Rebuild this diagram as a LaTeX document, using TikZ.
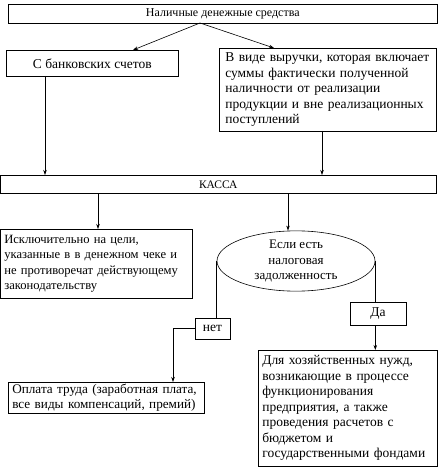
\documentclass[tikz,border=0pt]{standalone}
\usepackage{fontspec}
\setmainfont{Liberation Serif}
\usetikzlibrary{arrows.meta,positioning,calc,shapes.geometric}

\begin{document}
\begin{tikzpicture}[
  x=1pt,y=-1pt,
  font=\fontsize{13.5}{15.5}\selectfont,
  line width=0.6pt,
  box/.style={draw,anchor=north west,align=left,inner xsep=6pt,inner ysep=2pt},
  bar/.style={draw,anchor=north west,font=\fontsize{12}{13}\selectfont},
  arr/.style={-{Stealth[length=5pt,width=3.5pt]},line width=0.6pt}
]
\useasboundingbox (0,0) rectangle (443,473);
\node[bar,minimum width=429,minimum height=19] (src) at (8,4) {Наличные денежные средства};
\node[box,minimum width=172,minimum height=26,align=center] (bank) at (6,50) {С банковских счетов};
\node[box,text width=205,minimum height=83] (rev) at (219,48) {В виде выручки, которая включает\\суммы фактически полученной\\наличности от реализации\\продукции и вне реализационных\\поступлений};
\node[bar,minimum width=436,minimum height=18,font=\fontsize{11.5}{13}\selectfont] (kassa) at (0,175) {КАССА};
\node[box,inner xsep=4pt,text width=184,minimum height=69,font=\fontsize{12.6}{15.5}\selectfont] (aim) at (0,229) {Исключительно на цели,\\указанные в в денежном чеке и\\не противоречат действующему\\законодательству};
\node[draw,ellipse,minimum width=158,minimum height=58,inner sep=0pt,align=center,font=\fontsize{13}{15.8}\selectfont] (tax) at (296,261) {Если есть\\налоговая\\задолженность};
\node[draw,minimum width=35,minimum height=21,inner sep=1pt] (no) at (212.5,328.5) {нет};
\node[draw,minimum width=56,minimum height=23,inner sep=1pt] (yes) at (378,313.5) {Да};
\node[box,inner xsep=4pt,text width=188,minimum height=31,inner ysep=0pt,font=\fontsize{13.2}{15.5}\selectfont] (wage) at (8,382) {Оплата труда (заработная плата,\\все виды компенсаций, премий)};
\node[box,inner xsep=4pt,text width=171,minimum height=116] (house) at (258,350) {Для хозяйственных нужд,\\возникающие в процессе\\функционирования\\предприятия, а также\\проведения расчетов с\\бюджетом и\\государственными фондами};

% points on the edges
\coordinate (fork) at (200,23);
\coordinate (bankin) at (133,50);
\coordinate (revin) at (274,48);
\coordinate (b1) at (45,76);
\coordinate (r1) at (322,131);
\coordinate (k1) at (98,193);
\coordinate (k2) at (288,193);
\coordinate (w1) at (173,382);

\draw[arr] (fork) -- (bankin);
\draw[arr] (fork) -- (revin);
\draw[arr] (b1) -- (b1 |- kassa.north);
\draw[arr] (r1) -- (r1 |- kassa.north);
\draw[arr] (k1) -- (k1 |- aim.north);
\draw[arr] (k2) -- (k2 |- tax.north);
\draw (tax.west) -- (tax.west |- no.north);
\draw[arr] (no.west) -| (w1);
\draw (tax.east) -- (tax.east |- yes.north);
\draw[arr] (yes.south -| tax.east) -- (tax.east |- house.north);
\end{tikzpicture}
\end{document}
